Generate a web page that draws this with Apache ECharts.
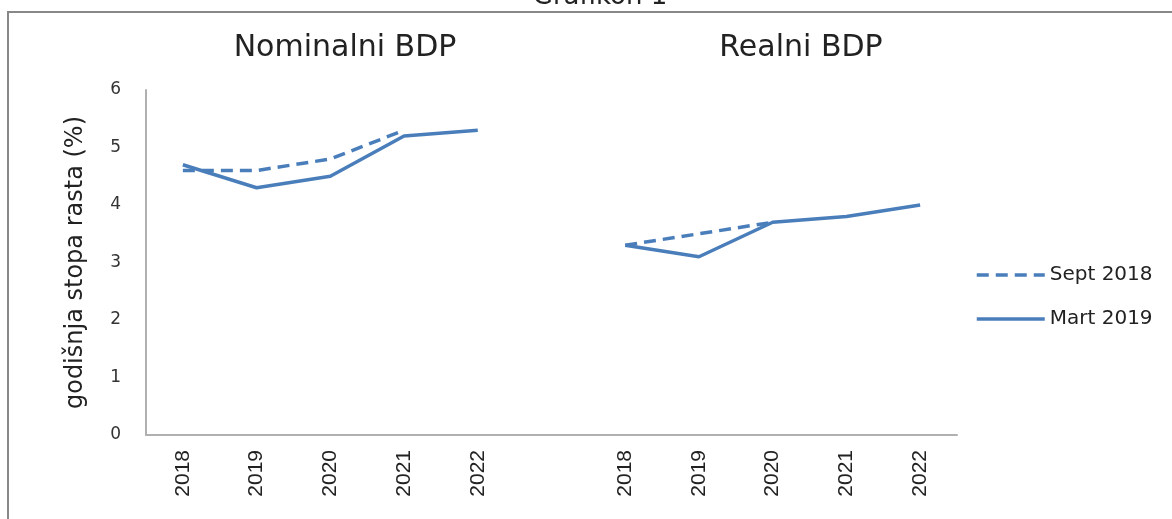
<!DOCTYPE html>
<html>
<head>
<meta charset="utf-8">
<script src="https://cdn.jsdelivr.net/npm/echarts@6/dist/echarts.min.js"></script>
<style>html,body{margin:0;padding:0;background:#fff;}#c{width:1172px;height:519px;}</style>
</head>
<body>
<div id="c"></div>
<script>
var categories = ['2018','2019','2020','2021','2022','','2018','2019','2020','2021','2022'];
var sept2018 = [4.6, 4.6, 4.8, 5.3, null, null, 3.3, 3.5, 3.7, null, null];
var mart2019 = [4.7, 4.3, 4.5, 5.2, 5.3, null, 3.3, 3.1, 3.7, 3.8, 4.0];
var yTicks = [0, 6, 1];
var panelTitles = ['Nominalni BDP', 'Realni BDP'];
var chartTitle = 'Grafikon 1';
var yName = 'godišnja stopa rasta (%)';

var blue = '#4a7ebb';
var chart = echarts.init(document.getElementById('c'));
chart.setOption({
  animation: false,
  backgroundColor: '#fff',
  grid: { left: 146, right: 215, top: 90, bottom: 84 },
  graphic: [
    { type: 'rect', shape: { x: 8, y: 12, width: 1200, height: 560 }, style: { fill: 'none', stroke: '#888', lineWidth: 2 }, silent: true },
    { type: 'text', style: { text: chartTitle, x: 600, y: 10, textAlign: 'center', textVerticalAlign: 'bottom', font: '26px "DejaVu Sans"', fill: '#222' } },
    { type: 'text', style: { text: panelTitles[0], x: 345, y: 48, textAlign: 'center', textVerticalAlign: 'middle', font: '30px "DejaVu Sans"', fill: '#222' } },
    { type: 'text', style: { text: panelTitles[1], x: 801, y: 48, textAlign: 'center', textVerticalAlign: 'middle', font: '30px "DejaVu Sans"', fill: '#222' } }
  ],
  legend: {
    orient: 'vertical', left: 975, top: 265, padding: 0, itemWidth: 68, itemHeight: 20, itemGap: 24,
    itemStyle: { opacity: 0 },
    lineStyle: { width: 3.5 },
    textStyle: { fontFamily: 'DejaVu Sans', fontSize: 20, color: '#222' },
    data: ['Sept 2018', 'Mart 2019']
  },
  xAxis: {
    type: 'category', data: categories, boundaryGap: true,
    axisLine: { lineStyle: { color: '#b0b0b0', width: 2 } },
    axisTick: { show: false },
    axisLabel: { rotate: 90, margin: 15, interval: 0, fontFamily: 'Liberation Sans', fontSize: 21, color: '#222' }
  },
  yAxis: {
    type: 'value', min: yTicks[0], max: yTicks[1], interval: yTicks[2],
    name: yName, nameLocation: 'middle', nameGap: 58,
    nameTextStyle: { fontFamily: 'DejaVu Sans', fontSize: 24, color: '#222' },
    axisLine: { show: true, lineStyle: { color: '#b0b0b0', width: 2 } },
    axisTick: { show: false },
    splitLine: { show: false },
    axisLabel: { margin: 25, fontFamily: 'DejaVu Sans', fontSize: 17, color: '#333' }
  },
  series: [
    { name: 'Sept 2018', type: 'line', data: sept2018, symbol: 'none', connectNulls: false,
      lineStyle: { color: blue, width: 3.5, type: [12, 7] }, itemStyle: { color: blue } },
    { name: 'Mart 2019', type: 'line', data: mart2019, symbol: 'none', connectNulls: false,
      lineStyle: { color: blue, width: 3.5 }, itemStyle: { color: blue } }
  ]
});
</script>
</body>
</html>
